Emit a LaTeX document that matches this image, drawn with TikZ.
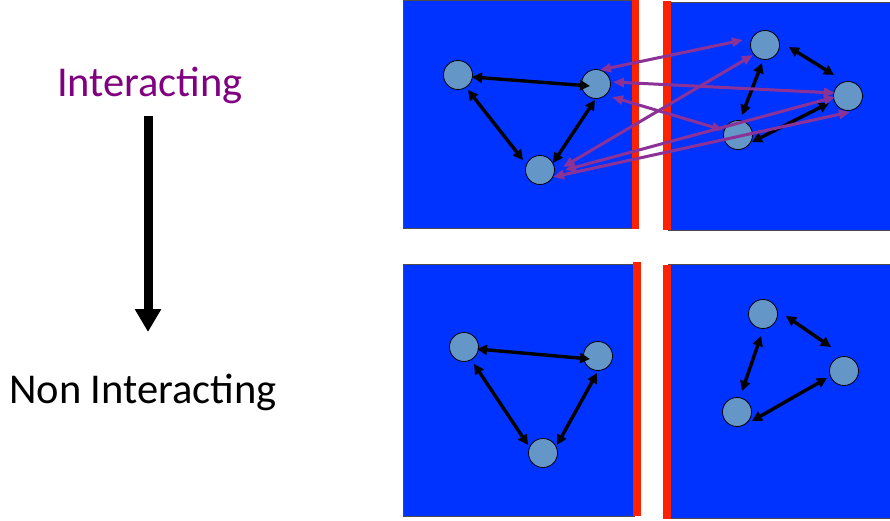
\documentclass[tikz,border=0pt]{standalone}
\usepackage{fontspec}
\setmainfont{Carlito}
\usetikzlibrary{arrows.meta,calc}
\definecolor{boxblue}{RGB}{0,51,255}
\definecolor{barred}{RGB}{255,34,0}
\definecolor{ballblue}{RGB}{100,150,200}
\definecolor{linkpurple}{RGB}{140,50,150}
\definecolor{txtpurple}{RGB}{128,0,128}
\begin{document}
\begin{tikzpicture}[x=1pt,y=-1pt,
  panel/.style={draw=black!70,line width=0.8pt,fill=boxblue},
  wall/.style={fill=barred},
  ball/.style={circle,draw=black,line width=0.8pt,fill=ballblue,minimum size=29pt,inner sep=0pt},
  link/.style={line width=3.4pt,{Triangle[length=10pt,width=10pt]}-{Triangle[length=10pt,width=10pt]}},
  xlink/.style={draw=linkpurple,line width=3pt,{Triangle[length=11pt,width=9pt]}-{Triangle[length=11pt,width=9pt]}},
  label/.style={anchor=base,font=\fontsize{42.5}{50}\selectfont}]
\useasboundingbox (0,0) rectangle (890,521);
\fill[white] (0,0) rectangle (890,521);
% panels
\draw[panel] (403,0) rectangle (634,228);
\fill[wall] (632,0) rectangle (639,229);
\draw[panel] (668,2) rectangle (895,230);
\fill[wall] (663,1) rectangle (671,230);
\draw[panel] (403,264) rectangle (634,516);
\fill[wall] (633,262) rectangle (641,516);
\draw[panel] (668,264) rectangle (895,518);
\fill[wall] (663,265) rectangle (671,519);
% texts and main arrow
\node[label,text=txtpurple] (int) at (150,97) {Interacting};
\node[label] (non) at (143,403) {Non Interacting};
\coordinate (arrtop) at (148,116);
\coordinate (arrbot) at (148,332);
\draw[line width=9pt,-{Triangle[length=23pt,width=25pt]}] (arrtop) -- (arrbot);
% balls top
\node[ball] (A) at (458,75) {};
\node[ball] (B) at (596,84) {};
\node[ball] (C) at (540,170) {};
\node[ball] (D) at (765,45) {};
\node[ball] (E) at (848,96) {};
\node[ball] (F) at (738,135) {};
% balls bottom
\node[ball] (G) at (464,347) {};
\node[ball] (H) at (598,356) {};
\node[ball] (I) at (543,453) {};
\node[ball] (J) at (763,314) {};
\node[ball] (K) at (844,371) {};
\node[ball] (L) at (737,412) {};
% black links top
\draw[link] ($(A)+(14,2)$) -- ($(B)+(-6,2)$);
\draw[link] ($(A)+(10,15)$) -- ($(C)+(-17,-10)$);
\draw[link] ($(B)+(-1,16)$) -- ($(C)+(13,-7)$);
\draw[link] ($(D)+(24,2)$) -- ($(E)+(-14,-21)$);
\draw[link] ($(D)+(-3,18)$) -- ($(F)+(4,-20)$);
\draw[link] ($(E)+(-19,7)$) -- ($(F)+(14,7)$);
% black links bottom
\draw[link] ($(G)+(13,2)$) -- ($(H)+(-8,3)$);
\draw[link] ($(G)+(10,17)$) -- ($(I)+(-15,-8)$);
\draw[link] ($(H)+(-1,17)$) -- ($(I)+(14,-8)$);
\draw[link] ($(J)+(23,2)$) -- ($(K)+(-13,-24)$);
\draw[link] ($(J)+(-2,22)$) -- ($(L)+(5,-21)$);
\draw[link] ($(K)+(-17,7)$) -- ($(L)+(15,9)$);
% purple cross links
\draw[xlink] ($(B)+(4,-14)$) -- ($(D)+(-22,-5)$);
\draw[xlink] ($(B)+(17,-2)$) -- ($(E)+(-13,-3)$);
\draw[xlink] ($(B)+(16,13)$) -- ($(F)+(-15,-5)$);
\draw[xlink] ($(C)+(23,-3)$) -- ($(D)+(-12,10)$);
\draw[xlink] ($(C)+(25,0)$) -- ($(E)+(-13,1)$);
\draw[xlink] ($(C)+(13,7)$) -- ($(E)+(2,16)$);
\end{tikzpicture}
\end{document}
